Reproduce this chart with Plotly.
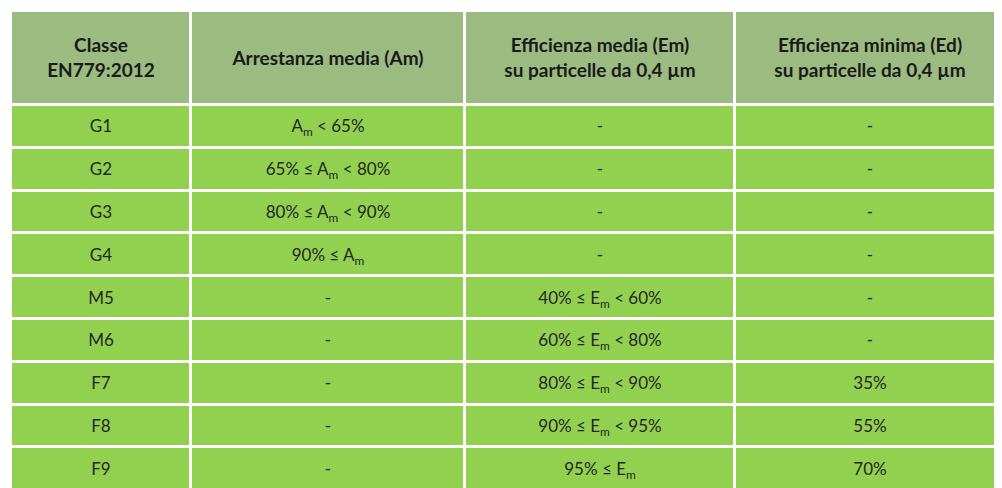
import plotly.graph_objects as go

headers = ["<b>Classe<br>EN779:2012</b>", "<b>Arrestanza media (Am)</b>",
           "<b>Efficienza media (Em)<br>su particelle da 0,4 µm</b>",
           "<b>Efficienza minima (Ed)<br>su particelle da 0,4 µm</b>"]
classes = ["G1", "G2", "G3", "G4", "M5", "M6", "F7", "F8", "F9"]
arrestanza = ["A<sub>m</sub> < 65%", "65% ≤ A<sub>m</sub> < 80%", "80% ≤ A<sub>m</sub> < 90%",
              "90% ≤ A<sub>m</sub>", "-", "-", "-", "-", "-"]
eff_media = ["-", "-", "-", "-", "40% ≤ E<sub>m</sub> < 60%", "60% ≤ E<sub>m</sub> < 80%",
             "80% ≤ E<sub>m</sub> < 90%", "90% ≤ E<sub>m</sub> < 95%", "95% ≤ E<sub>m</sub>"]
eff_min = ["-", "-", "-", "-", "-", "-", "35%", "55%", "70%"]

# layout geometry (pixels)
col_edges = [3, 183, 457, 727, 997]
header_edges = [3, 97]
row_h = 42.8
body_edges = [97 + i * row_h for i in range(len(classes) + 1)]

body_text = [list(r) for r in zip(classes, arrestanza, eff_media, eff_min)]

fig = go.Figure()
fig.add_trace(go.Heatmap(
    x=col_edges, y=header_edges, z=[[0] * 4], text=[headers], texttemplate="%{text}",
    colorscale=[[0, "#9bbb80"], [1, "#9bbb80"]], showscale=False, hoverinfo="skip",
    xgap=3, ygap=3, textfont=dict(family="Lato", size=19, color="#1a1a1a")))
fig.add_trace(go.Heatmap(
    x=col_edges, y=body_edges, z=[[1] * 4 for _ in classes], text=body_text,
    texttemplate="%{text}", colorscale=[[0, "#92d050"], [1, "#92d050"]],
    showscale=False, hoverinfo="skip", xgap=3, ygap=3,
    textfont=dict(family="Lato", size=17, color="#262626")))
fig.update_xaxes(range=[0, 1002], visible=False, fixedrange=True)
fig.update_yaxes(range=[488, 0], visible=False, fixedrange=True)
fig.update_layout(width=1002, height=488, margin=dict(l=0, r=0, t=0, b=0),
                  paper_bgcolor="white", plot_bgcolor="white")
fig.write_html("out.html")
